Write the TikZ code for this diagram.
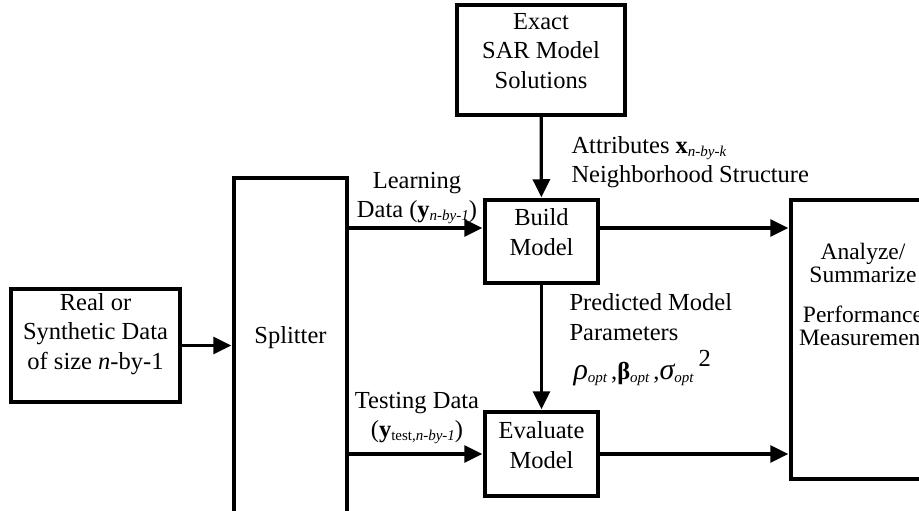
\documentclass[tikz,border=0pt]{standalone}
\usepackage{fontspec}
\setmainfont{Liberation Serif}
\usetikzlibrary{arrows.meta,positioning}
\newcommand{\lowsub}[1]{\raisebox{-3pt}{\fontsize{15}{15}\selectfont #1}}
\begin{document}
\begin{tikzpicture}[x=1pt,y=-1pt,
  box/.style={draw, line width=3.5pt, inner sep=0pt},
  txt/.style={font=\fontsize{24.5}{29.5}\selectfont, align=center},
  arr/.style={line width=3.2pt, -{Triangle[length=18pt,width=17pt]}, shorten >=1pt}]
\clip (0,0) rectangle (919,511);
\node[box, minimum width=168, minimum height=110, label={[txt,yshift=9pt]center:Exact\\SAR Model\\Solutions}] (exact) at (541,60) {}; % top box
\node[box, minimum width=113, minimum height=83, label={[txt,yshift=9.5pt]center:Build\\Model}] (build) at (541.5,241.5) {}; % build
\node[box, minimum width=113, minimum height=84, label={[txt,yshift=9pt]center:Evaluate\\Model}] (eval) at (541.5,454) {}; % evaluate
\node[box, minimum width=169, minimum height=113, label={[txt,yshift=11.5pt]center:Real or\\Synthetic Data\\of size \textit{n}-by-1}] (real) at (95.5,345.5) {}; % input data
\node[box, minimum width=113, minimum height=352, label={[txt,yshift=16pt]center:Splitter}] (splitter) at (290.5,354) {}; % splitter
\node[box, minimum width=144, minimum height=279, label={[txt,font=\fontsize{23.5}{23}\selectfont,yshift=45pt]center:Analyze/\\Summarize\\[17pt]Performance\\Measurement}] (analyze) at (863,339.5) {}; % results
\coordinate (learnin) at ([yshift=13.5pt]build.west); % learning line
\coordinate (learnout) at ([yshift=13.5pt]build.east);
\draw[arr] (real) -- (real -| splitter.west);
\draw[arr] (splitter.east |- learnin) -- (learnin);
\draw[arr] (splitter.east |- eval.west) -- (eval.west);
\draw[arr] (exact) -- (build);
\draw[arr] (build) -- (eval);
\draw[arr] (learnout) -- (analyze.west |- learnout);
\draw[arr] (eval.east) -- (analyze.west |- eval.east);
\node[txt] (learnlbl) at (417,198) {Learning\\Data (\textbf{y}\lowsub{\itshape n-by-1})}; % learning data
\node[txt] (testlbl) at (417,418) {Testing Data\\(\textbf{y}\lowsub{test,\itshape n-by-1})}; % testing data
\node[txt, align=left, anchor=west] (attrlbl) at (568,162) {Attributes \textbf{x}\lowsub{\itshape n-by-k}\\Neighborhood Structure}; % attributes
\node[txt, align=left, anchor=west] (predlbl) at (566,317) {Predicted Model\\Parameters}; % parameters
\node[txt, anchor=west] (paramlbl) at (570,368) {{\fontsize{30}{30}\selectfont\itshape ρ}\lowsub{\itshape opt}\,,{\bfseries β}\lowsub{\itshape opt}\,,{\fontsize{30}{30}\selectfont\itshape σ}\lowsub{\itshape opt}\hspace{5pt}\raisebox{13pt}{2}}; % estimates
\end{tikzpicture}
\end{document}
